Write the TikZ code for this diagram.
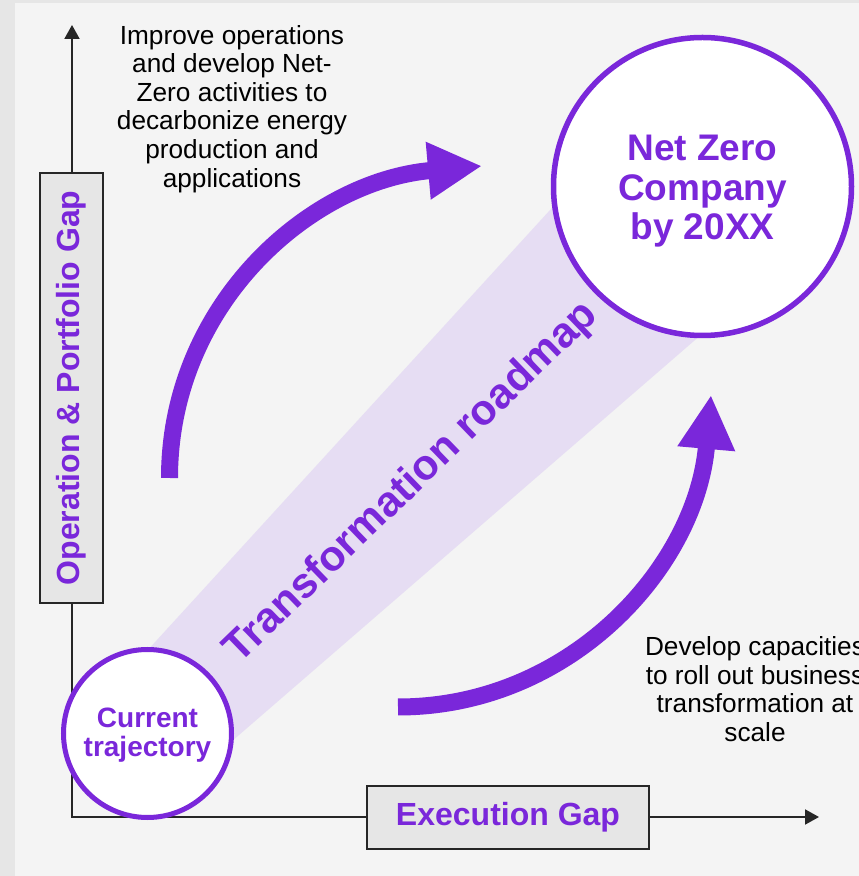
\documentclass[tikz,border=0pt]{standalone}
\usepackage{fontspec}
\setmainfont{Liberation Sans}
\usetikzlibrary{arrows.meta,calc,backgrounds}
\definecolor{grape}{HTML}{7A27DA}
\definecolor{lilac}{HTML}{E6DDF3}
\definecolor{panel}{HTML}{F4F4F4}
\definecolor{frame}{HTML}{E6E6E6}
\definecolor{ink}{HTML}{262626}
\tikzset{
  gapbox/.style={rectangle, draw=ink, fill=frame, line width=1.6pt, inner sep=0pt,
                 text=grape, font=\fontsize{32}{34}\selectfont\bfseries},
  goal/.style={circle, draw=grape, fill=white, align=center, inner sep=0pt,
               text=grape},
  note/.style={align=center, inner sep=0pt, text=black, font=\fontsize{26.2}{28.6}\selectfont},
  axis/.style={{Triangle[length=14pt,width=15pt]}-{Triangle[length=14pt,width=15pt]},
               draw=ink, line width=2pt},
  bigflow/.style={-{Triangle[length=54pt,width=54pt]}, draw=grape, line width=17pt}
}

\begin{document}
\begin{tikzpicture}[x=1pt,y=1pt]
 \useasboundingbox (0,0) rectangle (859,876);
 \clip (0,0) rectangle (859,876);

 % axes
 \coordinate (origin) at (72,59);
 \coordinate (ytip) at (72,851);
 \coordinate (xtip) at (819,59);
 \draw[axis] (ytip) -- (origin) -- (xtip);

 \node[gapbox, minimum width=430pt, minimum height=63.4pt, rotate=90] (opgap) at (71.5,488) {Operation \& Portfolio Gap};
 \node[gapbox, minimum width=282.4pt, minimum height=63.4pt] (exgap) at (508,58.5) {Execution Gap};

 % the two curved moves
 \coordinate (upstart) at (169.5,398);
 \coordinate (upend) at (482,710);
 \draw[bigflow] (upstart) to[out=90, in=185] (upend);
 \coordinate (lowstart) at (398,169);
 \coordinate (lowend) at (711,481);
 \draw[bigflow] (lowstart) to[out=0, in=265] (lowend);

 % start and goal
 \node[goal, line width=5pt, minimum size=168pt, font=\fontsize{28}{29}\selectfont\bfseries] (current) at (147.5,142.5) {\rule{0pt}{23pt}Current\\trajectory};
 \node[goal, line width=5.5pt, minimum size=298pt, font=\fontsize{37}{39.5}\selectfont\bfseries] (netzero) at (702.5,689.5) {\rule{0pt}{35pt}Net Zero\\Company\\by 20XX};

 \begin{scope}[on background layer]
  \fill[frame] (0,0) rectangle (859,876);
  \fill[panel] (15,0) rectangle (859,873);
  \fill[lilac] (current.88) -- (netzero.188) -- (netzero.268) -- (current.356) -- cycle;
 \end{scope}

 \node[rotate=44, text=grape, font=\fontsize{42.5}{46}\selectfont\bfseries] (roadmap) at (412,393) {Transformation roadmap};

 \node[note, anchor=north] (improve) at (232,851) {Improve operations\\and develop Net-\\Zero activities to\\decarbonize energy\\production and\\applications};
 \node[note, anchor=north] (develop) at (755,239.5) {Develop capacities\\to roll out business\\transformation at\\scale};
\end{tikzpicture}
\end{document}
